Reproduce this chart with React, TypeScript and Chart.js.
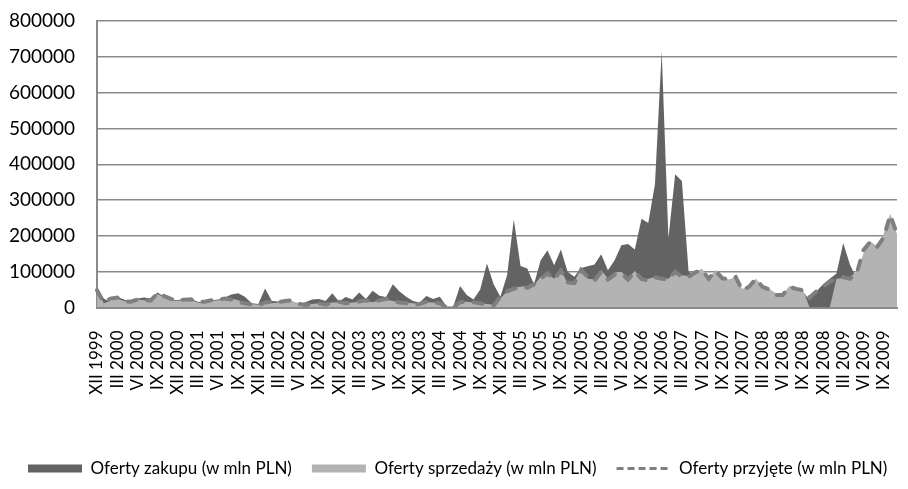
import React, { useEffect, useRef } from 'react';
import { Chart, registerables } from 'chart.js';

Chart.register(...registerables);

// Monthly categories, Dec 1999 – Nov 2009
const categories: string[] = [
  'XII 1999',
  'I 2000', 'II 2000', 'III 2000', 'IV 2000', 'V 2000', 'VI 2000', 'VII 2000', 'VIII 2000', 'IX 2000', 'X 2000', 'XI 2000', 'XII 2000',
  'I 2001', 'II 2001', 'III 2001', 'IV 2001', 'V 2001', 'VI 2001', 'VII 2001', 'VIII 2001', 'IX 2001', 'X 2001', 'XI 2001', 'XII 2001',
  'I 2002', 'II 2002', 'III 2002', 'IV 2002', 'V 2002', 'VI 2002', 'VII 2002', 'VIII 2002', 'IX 2002', 'X 2002', 'XI 2002', 'XII 2002',
  'I 2003', 'II 2003', 'III 2003', 'IV 2003', 'V 2003', 'VI 2003', 'VII 2003', 'VIII 2003', 'IX 2003', 'X 2003', 'XI 2003', 'XII 2003',
  'I 2004', 'II 2004', 'III 2004', 'IV 2004', 'V 2004', 'VI 2004', 'VII 2004', 'VIII 2004', 'IX 2004', 'X 2004', 'XI 2004', 'XII 2004',
  'I 2005', 'II 2005', 'III 2005', 'IV 2005', 'V 2005', 'VI 2005', 'VII 2005', 'VIII 2005', 'IX 2005', 'X 2005', 'XI 2005', 'XII 2005',
  'I 2006', 'II 2006', 'III 2006', 'IV 2006', 'V 2006', 'VI 2006', 'VII 2006', 'VIII 2006', 'IX 2006', 'X 2006', 'XI 2006', 'XII 2006',
  'I 2007', 'II 2007', 'III 2007', 'IV 2007', 'V 2007', 'VI 2007', 'VII 2007', 'VIII 2007', 'IX 2007', 'X 2007', 'XI 2007', 'XII 2007',
  'I 2008', 'II 2008', 'III 2008', 'IV 2008', 'V 2008', 'VI 2008', 'VII 2008', 'VIII 2008', 'IX 2008', 'X 2008', 'XI 2008', 'XII 2008',
  'I 2009', 'II 2009', 'III 2009', 'IV 2009', 'V 2009', 'VI 2009', 'VII 2009', 'VIII 2009', 'IX 2009', 'X 2009', 'XI 2009',
];

// Oferty zakupu (w mln PLN)
const zakupu: number[] = [
  55000, 25000, 15000, 30000, 22000, 15000, 25000, 28000, 25000, 42000, 30000, 22000,
  20000, 26000, 24000, 16000, 14000, 20000, 22000, 28000, 36000, 40000, 30000, 12000,
  10000, 53000, 18000, 17000, 20000, 15000, 10000, 15000, 22000, 24000, 18000, 40000,
  17000, 29000, 22000, 42000, 24000, 47000, 33000, 29000, 65000, 45000, 30000, 18000,
  14000, 32000, 24000, 30000, 3000, 3000, 60000, 35000, 22000, 50000, 123000, 65000,
  30000, 90000, 246000, 116000, 109000, 65000, 132000, 160000, 118000, 162000, 100000, 86000,
  110000, 115000, 120000, 149000, 104000, 132000, 174000, 177000, 162000, 248000, 236000, 345000,
  716000, 193000, 372000, 353000, 100000, 90000, 95000, 75000, 95000, 78000, 75000, 80000,
  45000, 55000, 70000, 55000, 48000, 32000, 33000, 55000, 50000, 45000, 20000, 45000,
  65000, 80000, 95000, 180000, 120000, 80000, 130000, 170000, 160000, 190000, 240000, 195000,
];

// Oferty sprzedaży (w mln PLN)
const sprzedazy: number[] = [
  50000, 12000, 18000, 25000, 18000, 15000, 22000, 20000, 18000, 38000, 28000, 20000,
  18000, 22000, 20000, 14000, 12000, 18000, 20000, 22000, 25000, 20000, 14000, 10000,
  8000, 15000, 12000, 14000, 16000, 18000, 12000, 8000, 10000, 12000, 10000, 14000,
  15000, 12000, 14000, 16000, 18000, 15000, 20000, 22000, 18000, 15000, 14000, 12000,
  10000, 15000, 14000, 12000, 0, 0, 15000, 16000, 14000, 12000, 10000, 8000,
  25000, 45000, 55000, 58000, 60000, 62000, 85000, 95000, 80000, 105000, 68000, 72000,
  108000, 80000, 78000, 105000, 80000, 98000, 100000, 82000, 102000, 78000, 80000, 85000,
  82000, 80000, 100000, 90000, 88000, 100000, 108000, 80000, 105000, 85000, 78000, 85000,
  52000, 60000, 80000, 60000, 52000, 40000, 36000, 60000, 56000, 50000, 0, 0,
  0, 0, 80000, 82000, 85000, 100000, 150000, 185000, 172000, 205000, 262000, 205000,
];

// Oferty przyjęte (w mln PLN)
const przyjete: number[] = [
  48000, 14000, 25000, 28000, 18000, 16000, 22000, 21000, 20000, 40000, 32000, 24000,
  20000, 22000, 23000, 16000, 16000, 20000, 22000, 25000, 22000, 15000, 12000, 8000,
  6000, 14000, 16000, 15000, 18000, 20000, 10000, 7000, 9000, 12000, 8000, 14000,
  16000, 12000, 13000, 17000, 20000, 15000, 20000, 24000, 18000, 14000, 12000, 8000,
  10000, 16000, 14000, 12000, 0, 0, 15000, 16000, 15000, 12000, 8000, 5000,
  30000, 45000, 52000, 58000, 55000, 65000, 80000, 95000, 78000, 103000, 70000, 68000,
  105000, 85000, 75000, 100000, 78000, 92000, 95000, 78000, 100000, 80000, 75000, 85000,
  80000, 78000, 100000, 85000, 85000, 98000, 105000, 80000, 103000, 82000, 78000, 85000,
  48000, 58000, 80000, 58000, 50000, 35000, 35000, 58000, 52000, 48000, 28000, 45000,
  58000, 72000, 80000, 85000, 80000, 95000, 160000, 183000, 168000, 195000, 258000, 205000,
];

const yTicks: number[] = [0, 100000, 200000, 300000, 400000, 500000, 600000, 700000, 800000];

const DARK = '#636363';
const LIGHT = '#b3b3b3';
const LINE = '#7f7f7f';
const GRID = '#8a8a8a';
const FONT = 'Lato, "Liberation Sans", sans-serif';

export default function App() {
  const ref = useRef<HTMLCanvasElement>(null);

  useEffect(() => {
    document.body.style.margin = '0';
    const canvas = ref.current;
    if (!canvas) return;
    const chart = new Chart(canvas, {
      type: 'line',
      data: {
        labels: categories,
        datasets: [
          {
            label: 'Oferty zakupu (w mln PLN)',
            data: zakupu,
            fill: 'origin',
            backgroundColor: DARK,
            borderColor: 'rgba(0,0,0,0)',
            borderWidth: 0,
            pointRadius: 0,
            tension: 0,
            order: 3,
          },
          {
            label: 'Oferty sprzedaży (w mln PLN)',
            data: sprzedazy,
            fill: 'origin',
            backgroundColor: LIGHT,
            borderColor: 'rgba(0,0,0,0)',
            borderWidth: 0,
            pointRadius: 0,
            tension: 0,
            order: 2,
          },
          {
            label: 'Oferty przyjęte (w mln PLN)',
            data: przyjete,
            fill: false,
            borderColor: LINE,
            backgroundColor: LINE,
            borderWidth: 4,
            borderDash: [9, 11],
            borderCapStyle: 'round',
            pointRadius: 0,
            tension: 0,
            order: 1,
          },
        ],
      },
      options: {
        animation: false,
        responsive: false,
        events: [],
        layout: { padding: { top: 21, right: 0, bottom: 2, left: 8 } },
        plugins: {
          tooltip: { enabled: false },
          legend: {
            position: 'bottom',
            align: 'start',
            labels: {
              usePointStyle: true,
              pointStyleWidth: 54,
              boxHeight: 8,
              padding: 20,
              color: '#000',
              font: { family: FONT, size: 17 },
              generateLabels: () => [
                { text: 'Oferty zakupu (w mln PLN)', fillStyle: DARK, strokeStyle: DARK, lineWidth: 0, pointStyle: 'rect', hidden: false, datasetIndex: 0 },
                { text: 'Oferty sprzedaży (w mln PLN)', fillStyle: LIGHT, strokeStyle: LIGHT, lineWidth: 0, pointStyle: 'rect', hidden: false, datasetIndex: 1 },
                { text: 'Oferty przyjęte (w mln PLN)', fillStyle: 'rgba(0,0,0,0)', strokeStyle: LINE, lineWidth: 3, lineDash: [7, 4], pointStyle: 'line', hidden: false, datasetIndex: 2 },
              ],
            },
          },
        },
        scales: {
          x: {
            grid: { display: false, drawTicks: false },
            border: { display: true, color: GRID, width: 2 },
            ticks: {
              autoSkip: false,
              minRotation: 90,
              maxRotation: 90,
              padding: 23,
              color: '#000',
              font: { family: FONT, size: 17 },
              callback: (_v: any, i: number) => (i % 3 === 0 ? categories[i] : ''),
            },
            afterFit: (s: any) => {
              s.height = 132.5;
              s.paddingLeft = 0;
              s.paddingRight = 11;
            },
          },
          y: {
            min: 0,
            max: 800000,
            afterBuildTicks: (s: any) => { s.ticks = yTicks.map((v) => ({ value: v })); },
            ticks: {
              padding: 22,
              color: '#000',
              font: { family: FONT, size: 19 },
              callback: (v: any) => String(v),
            },
            grid: { color: GRID, lineWidth: 1.5, drawTicks: false },
            border: { display: true, color: GRID, width: 2 },
            afterFit: (s: any) => {
              s.width = 89;
              s.paddingTop = 0;
              s.paddingBottom = 0;
            },
          },
        },
      },
    });
    return () => chart.destroy();
  }, []);

  return <canvas ref={ref} width={908} height={489} style={{ display: 'block' }} />;
}
